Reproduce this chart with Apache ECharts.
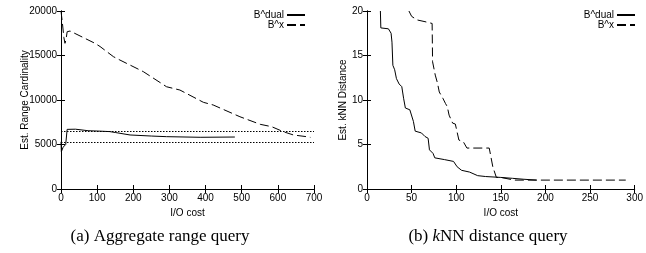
<!DOCTYPE html>
<html>
<head>
<meta charset="utf-8">
<script src="https://cdn.jsdelivr.net/npm/echarts@6/dist/echarts.min.js"></script>
<style>
	html, body { margin: 0; padding: 0; background: #fff; }
	#chart { width: 646px; height: 253px; }
</style>
</head>
<body>
<div id="chart"></div>
<script>
// (a) aggregate range query
const dualLeftX = [0, 1, 3, 6, 10, 13, 17, 20, 40, 75, 108, 135, 150, 191, 250, 292, 385, 481];
const dualLeftY = [5300, 4200, 4400, 4700, 4700, 5000, 6700, 6820, 6720, 6550, 6500, 6450, 6350, 6070, 5950, 5880, 5810, 5840];
const xLeftX = [0, 4, 8, 11, 14, 17, 25, 66, 94, 108, 145, 163, 228, 292, 329, 394, 421, 495, 551, 583, 615, 643, 679, 690];
const xLeftY = [20000, 18600, 17000, 16370, 16800, 17670, 17750, 16930, 16370, 16010, 14870, 14490, 13180, 11490, 11120, 9740, 9440, 8120, 7270, 7000, 6440, 6070, 5880, 5800];
const refLevels = [6450, 5250]; // dotted guide lines

// (b) kNN distance query
const dualRightX = [15, 15.5, 24, 27, 28, 29, 31, 33, 36, 39, 41, 43, 48, 52, 54, 61, 65, 68.5, 70, 74, 76, 87, 97, 101, 106, 115, 124, 133, 150, 163, 175, 190];
const dualRightY = [20, 18.1, 18, 17.5, 16.5, 13.9, 13.4, 12.4, 11.8, 11.5, 10.2, 9.1, 8.9, 7.6, 6.5, 6.3, 5.9, 5.7, 4.4, 4.0, 3.5, 3.3, 3.1, 2.5, 2.1, 1.9, 1.5, 1.4, 1.3, 1.2, 1.1, 1.0];
const xRightX = [47, 50, 56, 65, 73, 73.5, 76.5, 79, 81, 85, 88, 90, 92, 96, 99, 103, 108, 112, 137, 141, 145, 150, 165, 290];
const xRightY = [20, 19.4, 19, 18.8, 18.6, 14.3, 12.8, 11.9, 10.9, 10.2, 9.6, 9.25, 8.3, 7.4, 7.3, 5.5, 5.3, 4.6, 4.6, 2.5, 1.3, 1.3, 1.0, 1.0];

const seriesNames = ["B^dual", "B^x"];
const captions = ["(a) Aggregate range query", "{n|(b) }{i|k}{n|NN distance query}"];

const zip = (xs, ys) => xs.map((x, i) => [x, ys[i]]);
const font = "Liberation Sans";

function axisX(grid, max, interval, top) {
	return {
		type: "value", gridIndex: grid, min: 0, max: max, interval: interval,
		position: top ? "top" : "bottom",
		name: top ? "" : "I/O cost", nameLocation: "middle", nameGap: 18,
		nameTextStyle: { fontFamily: font, fontSize: 10, color: "#000" },
		axisLine: { show: true, lineStyle: { color: "#000", width: 1 } },
		axisTick: { show: true, inside: true, length: 4, lineStyle: { color: "#000" } },
		axisLabel: { show: !top, fontFamily: font, fontSize: 10, color: "#000", margin: 4 },
		splitLine: { show: false }
	};
}
function axisY(grid, max, interval, right, name, gap) {
	return {
		type: "value", gridIndex: grid, min: 0, max: max, interval: interval,
		position: right ? "right" : "left",
		name: right ? "" : name, nameLocation: "middle", nameGap: gap, nameMoveOverlap: false,
		nameTextStyle: { fontFamily: font, fontSize: 10, color: "#000" },
		axisLine: { show: true, lineStyle: { color: "#000", width: 1 } },
		axisTick: { show: true, inside: true, length: 4, lineStyle: { color: "#000" } },
		axisLabel: { show: !right, fontFamily: font, fontSize: 10, color: "#000", margin: 4, formatter: v => String(v) },
		splitLine: { show: false }
	};
}
function line(name, xi, yi, data, dashed) {
	return {
		name: name, type: "line", xAxisIndex: xi, yAxisIndex: yi, data: data,
		symbol: "none", animation: false, clip: true,
		lineStyle: { color: "#000", width: 1, type: dashed ? [9, 4] : "solid" },
		itemStyle: { color: "#000" }
	};
}
function legend(right) {
	return {
		data: seriesNames, orient: "vertical", right: right, top: 10, align: "right",
		itemWidth: 18, itemHeight: 8, itemGap: 0, padding: 0, selectedMode: false,
		itemStyle: { opacity: 0 },
		textStyle: { fontFamily: font, fontSize: 10, color: "#000", lineHeight: 9, padding: [0, -2, 0, 0] }
	};
}

const chart = echarts.init(document.getElementById("chart"));
const leftMain = line(seriesNames[0], 0, 0, zip(dualLeftX, dualLeftY), false);
leftMain.markLine = {
	silent: true, symbol: "none", animation: false,
	label: { show: false },
	lineStyle: { color: "#000", width: 1, type: [1.5, 1.5] },
	data: refLevels.map(v => ({ yAxis: v }))
};

chart.setOption({
	backgroundColor: "#fff",
	animation: false,
	grid: [
		{ left: 61, top: 11, width: 253, height: 178 },
		{ left: 367, top: 11, width: 276, height: 178 }
	],
	xAxis: [axisX(0, 700, 100, false), axisX(0, 700, 100, true), axisX(1, 300, 50, false), axisX(1, 300, 50, true)],
	yAxis: [
		axisY(0, 20000, 5000, false, "Est. Range Cardinality", 31),
		axisY(0, 20000, 5000, true, "", 0),
		axisY(1, 20, 5, false, "Est. kNN Distance", 19),
		axisY(1, 20, 5, true, "", 0)
	],
	legend: [legend(340), legend(10)],
	series: [
		leftMain,
		line(seriesNames[1], 0, 0, zip(xLeftX, xLeftY), true),
		line(seriesNames[0], 2, 2, zip(dualRightX, dualRightY), false),
		line(seriesNames[1], 2, 2, zip(xRightX, xRightY), true)
	],
	graphic: [
		{
			type: "text", x: 160, y: 237,
			style: { text: captions[0], font: "17px 'Liberation Serif'", fill: "#000", textAlign: "center", textVerticalAlign: "middle" }
		},
		{
			type: "text", x: 488, y: 237,
			style: {
				text: captions[1], fill: "#000", textAlign: "center", textVerticalAlign: "middle",
				rich: {
					n: { fontFamily: "Liberation Serif", fontSize: 17 },
					i: { fontFamily: "Liberation Serif", fontSize: 17, fontStyle: "italic" }
				}
			}
		}
	]
});
</script>
</body>
</html>
